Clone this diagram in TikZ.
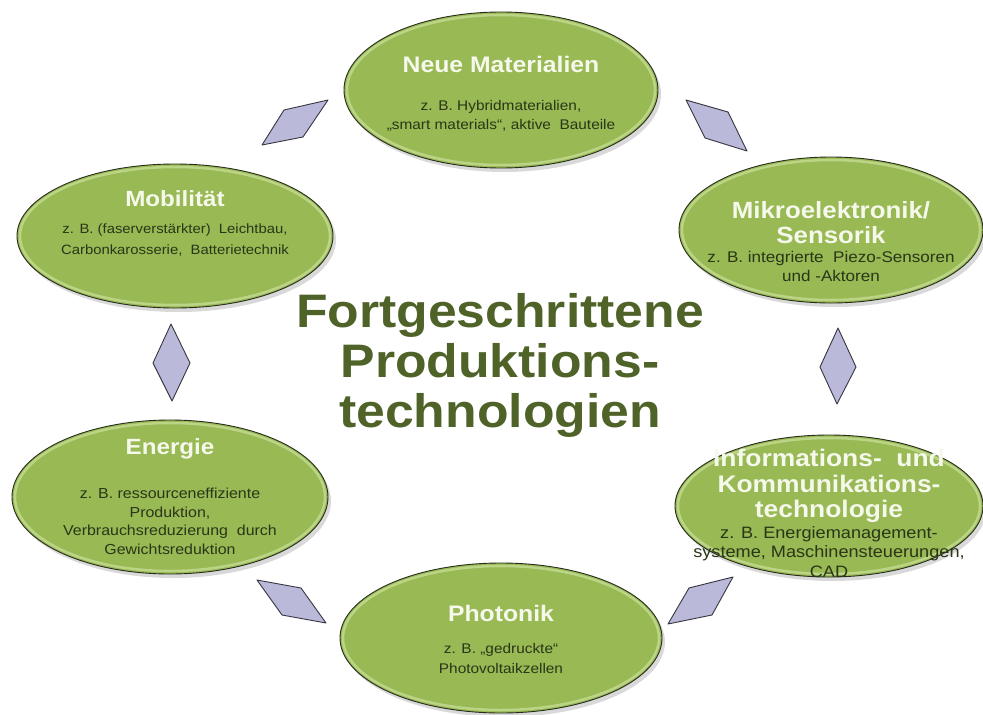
\documentclass[tikz,border=0pt]{standalone}
\usepackage{fontspec}
\setmainfont{Liberation Sans}[FakeStretch=1.1]
\usetikzlibrary{shapes.geometric}
\definecolor{elfill}{RGB}{152,185,84}
\definecolor{elrim}{RGB}{200,222,150}
\definecolor{elline}{RGB}{40,45,30}
\definecolor{headc}{RGB}{245,248,235}
\definecolor{bodyc}{RGB}{42,54,24}
\definecolor{titlec}{RGB}{79,98,40}
\definecolor{dmfill}{RGB}{186,185,218}
\definecolor{dmline}{RGB}{55,55,65}
\tikzset{
  topicshape/.style={ellipse, draw=elline, line width=0.9pt, fill=elfill, inner sep=0pt},
  diam/.style={draw=dmline, fill=dmfill, line width=0.9pt, line join=round},
  headtxt/.style={align=center, text=headc, inner sep=0pt},
  bodytxt/.style={align=center, text=bodyc, inner sep=0pt},
}
\newcommand\topicell[5]{%
  \fill[black, opacity=0.15] (#2+3,#3+4) ellipse [x radius=#4, y radius=#5];
  \node[topicshape, minimum width={2*#4pt}, minimum height={2*#5pt}] (#1) at (#2,#3) {};
  \draw[elrim, line width=2.5pt, opacity=0.75] (#2,#3) ellipse [x radius=#4-3, y radius=#5-3];
}
\begin{document}
\begin{tikzpicture}[x=1pt,y=-1pt]
\useasboundingbox[fill=white] (0,0) rectangle (983,715);

% diamonds
\draw[diam] (262,145) -- (284,110) -- (328,100) -- (303,137) -- cycle;
\draw[diam] (686,100) -- (728,112) -- (747,151) -- (705,138) -- cycle;
\draw[diam] (838,328) -- (856,367) -- (837,404) -- (820,367) -- cycle;
\draw[diam] (668,624) -- (689,588) -- (733,577) -- (712,615) -- cycle;
\draw[diam] (257,580) -- (301,588) -- (326,623) -- (282,615) -- cycle;
\draw[diam] (171,324) -- (190,363) -- (172,401) -- (153,363) -- cycle;

% ellipses
\topicell{neue}{501}{90}{157}{78}
\topicell{mikro}{831}{230}{152}{73}
\topicell{info}{829}{506}{154}{71}
\topicell{photo}{501}{638}{161}{75}
\topicell{energ}{170}{497}{158}{77}
\topicell{mobil}{175}{236}{158}{72}

% texts
\node[headtxt, font=\fontsize{22.5}{26}\selectfont\bfseries] (neueh) at (501,67) {\strut Neue Materialien};
\node[bodytxt, font=\fontsize{14}{19.5}\selectfont] (neueb) at (501,116)
  {\strut z. B. Hybridmaterialien,\\\strut „smart materials“, aktive~ Bauteile};

\node[headtxt, font=\fontsize{23.5}{25}\selectfont\bfseries] (mikroh) at (831,226)
  {\strut Mikroelektronik/\\\strut Sensorik};
\node[bodytxt, font=\fontsize{15.5}{19}\selectfont] (mikrob) at (831,268)
  {\strut z. B. integrierte~ Piezo-Sensoren\\\strut und -Aktoren};

\node[headtxt, font=\fontsize{24}{23.5}\selectfont\bfseries] (infoh) at (829,487)
  {\strut Informations-~ und\\\strut Kommunikations-\\\strut technologie};
\node[bodytxt, font=\fontsize{16.5}{19.5}\selectfont] (infob) at (829,554)
  {\strut z. B. Energiemanagement-\\\strut systeme, Maschinensteuerungen,\\\strut CAD};

\node[headtxt, font=\fontsize{22.5}{26}\selectfont\bfseries] (photoh) at (501,616) {\strut Photonik};
\node[bodytxt, font=\fontsize{14}{20}\selectfont] (photob) at (501,659)
  {\strut z. B. „gedruckte“\\\strut Photovoltaikzellen};

\node[headtxt, font=\fontsize{22}{26}\selectfont\bfseries] (energh) at (170,449) {\strut Energie};
\node[bodytxt, font=\fontsize{14.5}{18.5}\selectfont] (energb) at (170,523)
  {\strut z. B. ressourceneffiziente\\\strut Produktion,\\\strut Verbrauchsreduzierung~ durch\\\strut Gewichtsreduktion};

\node[headtxt, font=\fontsize{22}{26}\selectfont\bfseries] (mobilh) at (175,201) {\strut Mobilität};
\node[bodytxt, font=\fontsize{13.5}{21}\selectfont] (mobilb) at (175,240)
  {\strut z. B. (faserverstärkter)~ Leichtbau,\\\strut Carbonkarosserie,~ Batterietechnik};

% central title
\node[align=center, text=titlec, inner sep=0pt, font=\fontsize{47}{50}\selectfont\bfseries] (title) at (500,367)
  {\strut Fortgeschrittene\\\strut Produktions-\\\strut technologien};
\end{tikzpicture}
\end{document}
